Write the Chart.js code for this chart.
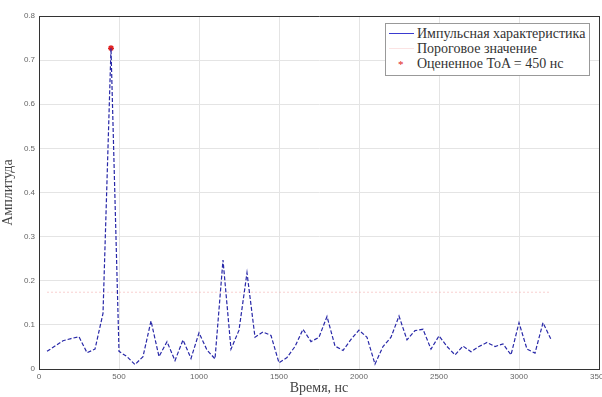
<!DOCTYPE html>
<html>
<head>
<meta charset="utf-8">
<script src="https://cdn.jsdelivr.net/npm/chart.js@4"></script>
<style>
  body { margin: 0; overflow: hidden; background: #fff; width: 602px; height: 397px; }
  #wrap { position: absolute; left: 0; top: 0; width: 620px; height: 397px; }
  #legend {
    position: absolute; left: 385px; top: 23px; width: 205px; height: 53px;
    border: 1px solid #999; background: #fff; box-sizing: border-box;
    font-family: "Liberation Serif", "DejaVu Serif", serif; font-size: 14px; color: #333;
  }
  .row { position: absolute; left: 0; height: 15px; line-height: 15px; white-space: nowrap; }
  .row span.txt { position: absolute; left: 31px; top: 0; }
  .row span.mark { position: absolute; left: 3px; top: 7px; width: 25px; height: 1px; }
</style>
</head>
<body>
<div id="wrap">
  <canvas id="myChart" width="620" height="397"></canvas>
  <div id="legend">
    <div class="row" style="top:2px"><span class="mark" style="background:#3a3ad0"></span><span class="txt">Импульсная характеристика</span></div>
    <div class="row" style="top:17px"><span class="mark" style="background:#fbe3e3"></span><span class="txt">Пороговое значение</span></div>
    <div class="row" style="top:32px"><span class="mark" style="left:12px;top:1px;width:auto;height:auto;color:#e02020;font-size:11px;background:none">*</span><span class="txt">Оцененное ToA = 450 нс</span></div>
  </div>
</div>
<script>
var times = [50, 100, 150, 200, 250, 300, 350, 400, 450, 500,
	550, 600, 650, 700, 750, 800, 850, 900, 950, 1000,
	1050, 1100, 1150, 1200, 1250, 1300, 1350, 1400, 1450, 1500,
	1550, 1600, 1650, 1700, 1750, 1800, 1850, 1900, 1950, 2000,
	2050, 2100, 2150, 2200, 2250, 2300, 2350, 2400, 2450, 2500,
	2550, 2600, 2650, 2700, 2750, 2800, 2850, 2900, 2950, 3000,
	3050, 3100, 3150, 3200];
var amplitude = [0.040, 0.052, 0.064, 0.069, 0.073, 0.037, 0.045, 0.126, 0.727, 0.040,
	0.028, 0.010, 0.028, 0.109, 0.028, 0.062, 0.019, 0.066, 0.024, 0.082,
	0.043, 0.023, 0.247, 0.045, 0.088, 0.218, 0.072, 0.084, 0.076, 0.014,
	0.026, 0.051, 0.090, 0.062, 0.072, 0.119, 0.052, 0.042, 0.067, 0.088,
	0.072, 0.011, 0.051, 0.072, 0.120, 0.066, 0.087, 0.090, 0.045, 0.075,
	0.051, 0.032, 0.052, 0.039, 0.051, 0.060, 0.051, 0.057, 0.032, 0.105,
	0.045, 0.036, 0.105, 0.067];
var thresholdTimes = [50, 3200];
var thresholdValue = 0.174;
var toaTime = [450];
var toaValue = [0.727];
var xTicks = [0, 500, 1000, 1500, 2000, 2500, 3000, 3500];
var yTicks = [0, 0.1, 0.2, 0.3, 0.4, 0.5, 0.6, 0.7, 0.8];

var pulse = [];
for (var i in times) {
	pulse.push({x: times[i], y: amplitude[i]});
}
var thr = [];
for (var j in thresholdTimes) {
	thr.push({x: thresholdTimes[j], y: thresholdValue});
}
var toa = [];
for (var k in toaTime) {
	toa.push({x: toaTime[k], y: toaValue[k]});
}

var ctx = document.getElementById('myChart');

var chart = new Chart(ctx, {
	type: 'line',
	data: {
		datasets: [
			{
				label: 'Импульсная характеристика',
				data: pulse,
				borderColor: '#2828a8',
				borderWidth: 1.2,
				borderDash: [4, 2],
				pointRadius: 0,
				tension: 0
			},
			{
				label: 'Пороговое значение',
				data: thr,
				borderColor: 'rgba(240, 150, 150, 0.45)',
				borderWidth: 1,
				borderDash: [2, 2],
				pointRadius: 0
			},
			{
				label: 'Оцененное ToA = 450 нс',
				data: toa,
				showLine: false,
				pointStyle: 'star',
				pointRadius: 3,
				borderColor: '#e02020',
				backgroundColor: '#e02020',
				borderWidth: 1.5
			}
		]
	},
	options: {
		responsive: false,
		animation: false,
		layout: { padding: { left: 0, top: 16, right: 21, bottom: 0 } },
		plugins: {
			legend: { display: false },
			tooltip: { enabled: false }
		},
		scales: {
			x: {
				type: 'linear',
				min: 0,
				max: 3500,
				afterBuildTicks: function(scale) {
					scale.ticks = xTicks.map(function(v) { return {value: v}; });
				},
				afterFit: function(scale) { scale.height = 28; },
				ticks: {
					callback: function(v) { return String(v); },
					font: { family: 'Arial, "Liberation Sans", sans-serif', size: 8 },
					color: '#666',
					padding: 3,
					maxRotation: 0
				},
				grid: {
					color: function(c) { return c.tick && c.tick.value === 3500 ? '#333' : '#e4e4e4'; },
					drawTicks: false
				},
				border: { color: '#333', width: 1 },
				title: {
					display: true,
					text: 'Время, нс',
					font: { family: '"Liberation Serif", serif', size: 14 },
					color: '#444',
					padding: { top: 0, bottom: 0 }
				}
			},
			y: {
				min: 0,
				max: 0.8,
				afterBuildTicks: function(scale) {
					scale.ticks = yTicks.map(function(v) { return {value: v}; });
				},
				afterFit: function(scale) { scale.width = 39; },
				ticks: {
					callback: function(v) { return String(v); },
					font: { family: 'Arial, "Liberation Sans", sans-serif', size: 8 },
					color: '#666',
					padding: 4
				},
				grid: {
					color: function(c) { return c.tick && c.tick.value === 0.8 ? '#333' : '#e4e4e4'; },
					drawTicks: false
				},
				border: { color: '#333', width: 1 },
				title: {
					display: true,
					text: 'Амплитуда',
					font: { family: '"Liberation Serif", serif', size: 14 },
					color: '#444',
					padding: { top: 0, bottom: 0 }
				}
			}
		}
	}
});
</script>
</body>
</html>
